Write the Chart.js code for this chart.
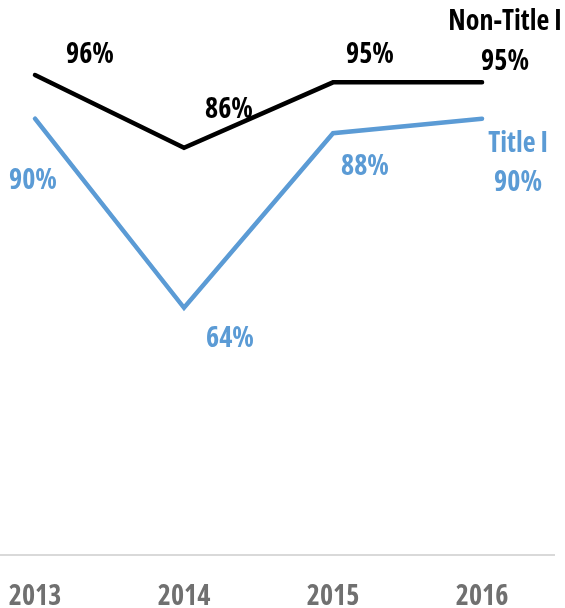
<!DOCTYPE html>
<html>
<head>
<meta charset="utf-8">
<script src="https://cdn.jsdelivr.net/npm/chart.js@4.4.1/dist/chart.umd.min.js"></script>
<style>
  html, body { margin: 0; padding: 0; background: #ffffff; }
  #wrap { position: relative; width: 565px; height: 608px; }
</style>
</head>
<body>
<div id="wrap"><canvas id="c"></canvas></div>
<script>
// ---- data ----
const years = ['2013', '2014', '2015', '2016'];
const nonTitleI = [96, 86, 95, 95];
const titleI = [90, 64, 88, 90];
const seriesNames = ['Non-Title I', 'Title I'];

const FONT = "'Open Sans', sans-serif";
const BLACK = '#000000';
const BLUE = '#5b9bd5';

function toPoints(arr) { return arr.map((v, i) => ({ x: i, y: v })); }

// label offsets (pixels) relative to each point, per dataset
const labelOffsets = [
  [[55, -20], [45, -38], [37, -27], [23, -20]],
  [[-2, 62], [46, 31], [32, 34], [36, 64]]
];
const nameOffsets = [[23, -60], [36, 25]];

const labelPlugin = {
  id: 'pointLabels',
  afterDatasetsDraw(chart) {
    const ctx = chart.ctx;
    ctx.save();
    ctx.textAlign = 'center';
    ctx.textBaseline = 'middle';
    ctx.font = 'bold condensed 28px ' + FONT;
    try { ctx.fontStretch = 'condensed'; } catch (e) {}
    chart.data.datasets.forEach((ds, di) => {
      const meta = chart.getDatasetMeta(di);
      ctx.fillStyle = ds.borderColor;
      meta.data.forEach((pt, i) => {
        const o = labelOffsets[di][i];
        ctx.fillText(ds.data[i].y + '%', pt.x + o[0], pt.y + o[1]);
      });
      const last = meta.data[meta.data.length - 1];
      const no = nameOffsets[di];
      const w = ctx.measureText(ds.label).width;
      let cx = last.x + no[0];
      if (cx + w / 2 > chart.width - 2) cx = chart.width - 2 - w / 2;
      ctx.fillText(ds.label, cx, last.y + no[1]);
    });
    ctx.restore();
  }
};

new Chart(document.getElementById('c'), {
  type: 'line',
  data: {
    datasets: [
      { label: seriesNames[0], data: toPoints(nonTitleI), borderColor: BLACK, backgroundColor: BLACK,
        borderWidth: 4.5, pointRadius: 0, tension: 0, borderCapStyle: 'round', borderJoinStyle: 'miter' },
      { label: seriesNames[1], data: toPoints(titleI), borderColor: BLUE, backgroundColor: BLUE,
        borderWidth: 4.5, pointRadius: 0, tension: 0, borderCapStyle: 'round', borderJoinStyle: 'miter' }
    ]
  },
  options: {
    responsive: true,
    maintainAspectRatio: false,
    animation: false,
    layout: { padding: { top: 46, left: 0, right: 11, bottom: 0 } },
    plugins: { legend: { display: false }, tooltip: { enabled: false } },
    scales: {
      x: {
        type: 'linear',
        min: -0.235,
        max: 3.483,
        afterBuildTicks(axis) { axis.ticks = years.map((y, i) => ({ value: i })); },
        afterFit(scale) { scale.paddingLeft = 0; scale.paddingRight = 0; scale.height = 53; },
        ticks: {
          autoSkip: false,
          maxRotation: 0,
          padding: 25,
          color: '#707070',
          font: { family: FONT, size: 28, weight: 'bold condensed' },
          callback: (v) => years[v] !== undefined ? years[v] : ''
        },
        grid: { display: false, drawTicks: false },
        border: { display: true, color: '#d9d9d9', width: 2 }
      },
      y: {
        display: false,
        min: 30,
        max: 100
      }
    }
  },
  plugins: [labelPlugin]
});
</script>
</body>
</html>
